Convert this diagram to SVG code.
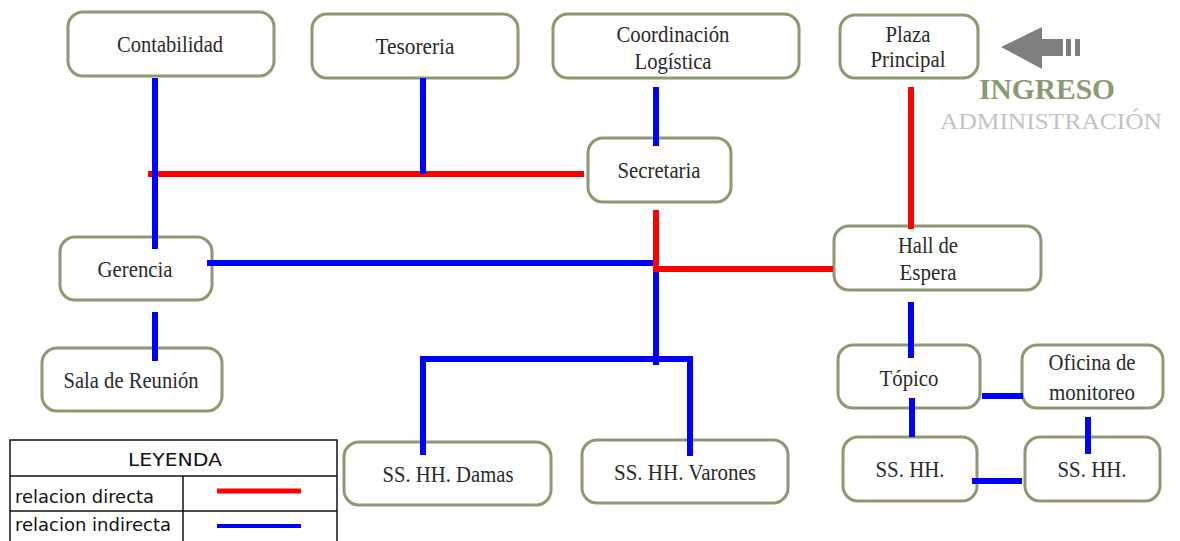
<svg xmlns="http://www.w3.org/2000/svg" width="1180" height="541" viewBox="0 0 1180 541">
<style>
.node rect{fill:#fff;stroke:#8a9a72;stroke-width:3}
.node text{font-family:"Liberation Serif",serif;font-size:23.5px;fill:#2a2a2a;text-anchor:middle}
.r{stroke:#ff0000;stroke-width:6;fill:none}
.b{stroke:#0000ff;stroke-width:6;fill:none}
.leg{font-family:"DejaVu Sans","Liberation Sans",sans-serif;font-size:18.5px;fill:#111}
</style>
<rect width="1180" height="541" fill="#fff"/>
<g id="node-contabilidad" class="node"><rect x="68" y="12" width="206" height="64" rx="15"/><text x="170" y="52" textLength="106" lengthAdjust="spacingAndGlyphs">Contabilidad</text></g>
<g id="node-tesoreria" class="node"><rect x="312" y="14" width="206" height="64" rx="15"/><text x="415" y="54" textLength="79" lengthAdjust="spacingAndGlyphs">Tesoreria</text></g>
<g id="node-coordinacion" class="node"><rect x="553" y="14" width="246" height="64" rx="15"/><text x="673" y="42" textLength="113" lengthAdjust="spacingAndGlyphs">Coordinación</text><text x="673" y="69" textLength="77" lengthAdjust="spacingAndGlyphs">Logística</text></g>
<g id="node-plaza" class="node"><rect x="840" y="15" width="138" height="63" rx="15"/><text x="908" y="42" textLength="45" lengthAdjust="spacingAndGlyphs">Plaza</text><text x="908" y="67" textLength="75" lengthAdjust="spacingAndGlyphs">Principal</text></g>
<g id="node-secretaria" class="node"><rect x="588" y="138" width="143" height="64" rx="15"/><text x="659" y="178" textLength="83" lengthAdjust="spacingAndGlyphs">Secretaria</text></g>
<g id="node-gerencia" class="node"><rect x="60" y="237" width="152" height="63" rx="15"/><text x="135" y="277" textLength="75" lengthAdjust="spacingAndGlyphs">Gerencia</text></g>
<g id="node-hall" class="node"><rect x="834" y="226" width="207" height="64" rx="15"/><text x="928" y="253" textLength="60" lengthAdjust="spacingAndGlyphs">Hall de</text><text x="928" y="280" textLength="57" lengthAdjust="spacingAndGlyphs">Espera</text></g>
<g id="node-sala" class="node"><rect x="42" y="348" width="180" height="63" rx="15"/><text x="131" y="388" textLength="135" lengthAdjust="spacingAndGlyphs">Sala de Reunión</text></g>
<g id="node-damas" class="node"><rect x="344" y="442" width="207" height="63" rx="15"/><text x="448" y="482" textLength="131" lengthAdjust="spacingAndGlyphs">SS. HH. Damas</text></g>
<g id="node-varones" class="node"><rect x="582" y="440" width="206" height="63" rx="15"/><text x="685" y="480" textLength="142" lengthAdjust="spacingAndGlyphs">SS. HH. Varones</text></g>
<g id="node-topico" class="node"><rect x="838" y="345" width="142" height="63" rx="15"/><text x="909" y="386" textLength="59" lengthAdjust="spacingAndGlyphs">Tópico</text></g>
<g id="node-oficina" class="node"><rect x="1022" y="345" width="141" height="63" rx="15"/><text x="1092" y="370" textLength="87" lengthAdjust="spacingAndGlyphs">Oficina de</text><text x="1092" y="400" textLength="86" lengthAdjust="spacingAndGlyphs">monitoreo</text></g>
<g id="node-sshh1" class="node"><rect x="843" y="437" width="134" height="64" rx="15"/><text x="910" y="477" textLength="69" lengthAdjust="spacingAndGlyphs">SS. HH.</text></g>
<g id="node-sshh2" class="node"><rect x="1025" y="437" width="135" height="64" rx="15"/><text x="1092" y="477" textLength="69" lengthAdjust="spacingAndGlyphs">SS. HH.</text></g>
<g id="connectors">
<line class="r" x1="148" y1="174" x2="584" y2="174"/>
<line class="b" x1="155" y1="78" x2="155" y2="249"/>
<line class="b" x1="423" y1="78" x2="423" y2="174"/>
<line class="b" x1="656" y1="87" x2="656" y2="146"/>
<line class="b" x1="155" y1="312" x2="155" y2="361"/>
<line class="b" x1="207" y1="263" x2="655" y2="263"/>
<line class="b" x1="656" y1="270" x2="656" y2="365"/>
<polyline class="b" points="423,455 423,359 690,359 690,456"/>
<polyline class="r" points="656,210 656,269 833,269"/>
<line class="r" x1="911" y1="87" x2="911" y2="229"/>
<line class="b" x1="911" y1="302" x2="911" y2="358"/>
<line class="b" x1="912" y1="398" x2="912" y2="437"/>
<line class="b" x1="982" y1="396" x2="1023" y2="396"/>
<line class="b" x1="1088" y1="417" x2="1088" y2="454"/>
<line class="b" x1="972" y1="481" x2="1022" y2="481"/>
</g>
<g id="ingreso">
<polygon points="1001,47 1042,27 1042,39 1063,39 1063,56 1042,56 1042,69" fill="#7f7f7f"/>
<rect x="1066" y="39" width="5" height="17" fill="#7f7f7f"/>
<rect x="1075" y="39" width="5" height="17" fill="#7f7f7f"/>
<text x="979" y="99" font-family="Liberation Serif,serif" font-weight="bold" font-size="29" fill="#8a9a72" textLength="136" lengthAdjust="spacingAndGlyphs">INGRESO</text>
<text x="940" y="129" font-family="Liberation Serif,serif" font-size="23" fill="#c3c3c3" textLength="222" lengthAdjust="spacingAndGlyphs">ADMINISTRACIÓN</text>
</g>
<g id="legend" fill="none" stroke="#111" stroke-width="1.5">
<rect x="10" y="440" width="327" height="110"/>
<line x1="10" y1="476" x2="337" y2="476"/>
<line x1="10" y1="511" x2="337" y2="511"/>
<line x1="183" y1="476" x2="183" y2="541"/>
<line x1="217" y1="491" x2="301" y2="491" stroke="#ff0000" stroke-width="5"/>
<line x1="217" y1="526" x2="301" y2="526" stroke="#0000ff" stroke-width="4"/>
<text class="leg" stroke="none" x="128" y="466" textLength="94" lengthAdjust="spacingAndGlyphs">LEYENDA</text>
<text class="leg" stroke="none" x="15" y="503" textLength="139" lengthAdjust="spacingAndGlyphs">relacion directa</text>
<text class="leg" stroke="none" x="15" y="531" textLength="156" lengthAdjust="spacingAndGlyphs">relacion indirecta</text>
</g>
</svg>
